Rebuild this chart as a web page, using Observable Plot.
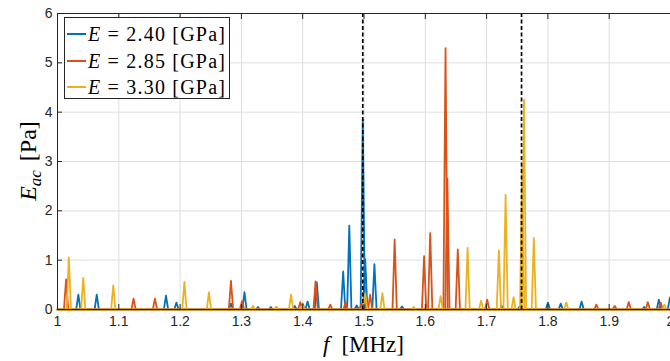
<!DOCTYPE html>
<html>
<head>
<meta charset="utf-8">
<script src="https://cdn.jsdelivr.net/npm/d3@7"></script>
<script src="https://cdn.jsdelivr.net/npm/@observablehq/plot@0.6"></script>
<style>
  body { margin: 0; background: #fff; }
  #wrap { position: relative; width: 670px; height: 361px; overflow: hidden; }
  #legend { position: absolute; left: 64px; top: 17px; width: 166px; height: 82px; border: 1px solid #262626; background: #fff; box-sizing: border-box;
            font-family: "Liberation Serif", serif; font-size: 20px; color: #000; }
  .row { position: absolute; left: 0; height: 26px; line-height: 26px; white-space: nowrap; }
  .sw { position: absolute; left: 2px; top: 12px; width: 19px; height: 2px; }
  .tx { position: absolute; left: 23px; top: 0; letter-spacing: 1.2px; }
</style>
</head>
<body>
<div id="wrap"></div>
<script>
// ---- data ----
const xTicks = [1, 1.1, 1.2, 1.3, 1.4, 1.5, 1.6, 1.7, 1.8, 1.9, 2];
const xTickLabels = ["1", "1.1", "1.2", "1.3", "1.4", "1.5", "1.6", "1.7", "1.8", "1.9", "2"];
const yTicks = [0, 1, 2, 3, 4, 5, 6];
const yTickLabels = ["0", "1", "2", "3", "4", "5", "6"];
const seriesE = ["2.40", "2.85", "3.30"];
const seriesColors = ["#0072BD", "#D95319", "#EDB120"];
const dashF = [1.498, 1.757];

// E = 2.40 GPa : peak frequencies [MHz] and amplitudes [Pa]
const blueF = [1.034, 1.064, 1.177, 1.194, 1.283, 1.305, 1.327, 1.348, 1.387, 1.408, 1.423, 1.466, 1.476, 1.488, 1.498, 1.502, 1.517, 1.562, 1.725, 1.754, 1.800, 1.821, 1.855, 1.957, 1.981, 1.999];
const blueA = [0.30, 0.30, 0.28, 0.14, 0.12, 0.35, 0.05, 0.05, 0.07, 0.16, 0.55, 0.77, 1.70, 0.08, 3.85, 1.02, 0.92, 0.06, 0.07, 0.06, 0.14, 0.12, 0.16, 0.05, 0.20, 0.24];
// E = 2.85 GPa
const redF = [1.014, 1.124, 1.159, 1.283, 1.301, 1.396, 1.400, 1.421, 1.445, 1.470, 1.496, 1.510, 1.550, 1.598, 1.608, 1.633, 1.636, 1.653, 1.701, 1.879, 1.909, 1.932, 1.963, 1.984];
const redA = [0.61, 0.22, 0.22, 0.58, 0.17, 0.15, 0.12, 0.57, 0.10, 0.15, 0.12, 0.30, 1.42, 1.08, 1.55, 5.30, 2.65, 1.22, 0.20, 0.10, 0.07, 0.15, 0.15, 0.14];
// E = 3.30 GPa
const yelF = [1.0185, 1.042, 1.091, 1.207, 1.247, 1.319, 1.357, 1.381, 1.400, 1.502, 1.530, 1.581, 1.625, 1.669, 1.691, 1.720, 1.731, 1.744, 1.758, 1.761, 1.777, 1.830, 1.990];
const yelA = [1.05, 0.64, 0.49, 0.56, 0.35, 0.07, 0.06, 0.30, 0.08, 0.33, 0.33, 0.05, 0.27, 1.25, 0.18, 1.20, 2.33, 0.25, 2.90, 4.25, 1.45, 0.14, 0.10];

const peakF = [blueF, redF, yelF];
const peakA = [blueA, redA, yelA];

// ---- build tables ----
const HW = 0.0035; // half width of each drawn spike
function peakRows(F, A) {
  const rows = [];
  F.forEach((f, i) => {
    rows.push({f: f - HW, a: 0, id: i});
    rows.push({f: f, a: A[i], id: i});
    rows.push({f: f + HW, a: 0, id: i});
  });
  return rows;
}
const baseRows = [{f: xTicks[0], a: 0}, {f: xTicks[xTicks.length - 1], a: 0}];

const seriesMarks = [];
seriesColors.forEach((c, s) => {
  seriesMarks.push(Plot.line(baseRows, {x: "f", y: "a", stroke: c, strokeWidth: 2.2}));
  seriesMarks.push(Plot.line(peakRows(peakF[s], peakA[s]), {x: "f", y: "a", z: "id", stroke: c, strokeWidth: 1.8, curve: "linear"}));
});

const axisColor = "#262626";
const chart = Plot.plot({
  width: 670,
  height: 361,
  marginLeft: 57,
  marginRight: 0,
  marginTop: 13,
  marginBottom: 52,
  style: {fontFamily: "'Liberation Sans', Arial, sans-serif", fontSize: "14px", color: axisColor, background: "#fff"},
  x: {domain: [1, 2], label: null},
  y: {domain: [0, 6], label: null},
  marks: [
    Plot.gridX(xTicks, {stroke: "#dedede", strokeOpacity: 1}),
    Plot.gridY(yTicks, {stroke: "#dedede", strokeOpacity: 1}),
    ...seriesMarks,
    Plot.ruleX(dashF, {stroke: "#000", strokeWidth: 1.7, strokeDasharray: "4,2.5"}),
    Plot.ruleX([1], {stroke: axisColor, strokeWidth: 1}),
    Plot.ruleY([0, 6], {stroke: axisColor, strokeWidth: 1}),
    Plot.axisX(xTicks, {anchor: "bottom", tickSize: 0, tickPadding: 7, tickFormat: (d, i) => xTickLabels[i], label: null}),
    Plot.axisX(xTicks, {anchor: "bottom", tickSize: -5, tickFormat: () => "", label: null}),
    Plot.axisX(xTicks, {anchor: "top", tickSize: -5, tickFormat: () => "", label: null}),
    Plot.axisY(yTicks, {anchor: "left", tickSize: 0, tickPadding: 5, tickFormat: (d, i) => yTickLabels[i], label: null}),
    Plot.axisY(yTicks, {anchor: "left", tickSize: -5, tickFormat: () => "", label: null})
  ]
});

const wrap = document.getElementById("wrap");
wrap.appendChild(chart);

// axis titles (LaTeX-like)
const svg = d3.select(chart);
const xl = svg.append("text")
  .attr("x", 363.5).attr("y", 352)
  .attr("text-anchor", "middle")
  .attr("font-family", "'Liberation Serif', serif")
  .attr("font-size", 23).attr("fill", "#000");
xl.append("tspan").attr("font-style", "italic").text("f");
xl.append("tspan").attr("dx", 12).text("[MHz]");

const yl = svg.append("text")
  .attr("transform", "translate(36,161) rotate(-90)")
  .attr("text-anchor", "middle")
  .attr("font-family", "'Liberation Serif', serif")
  .attr("font-size", 24).attr("fill", "#000");
yl.append("tspan").attr("font-style", "italic").text("E");
yl.append("tspan").attr("font-style", "italic").attr("font-size", 17).attr("dy", 5).text("ac");
yl.append("tspan").attr("dy", -5).attr("dx", 9).text("[Pa]");

// legend
const legend = document.createElement("div");
legend.id = "legend";
seriesE.forEach((e, i) => {
  const row = document.createElement("div");
  row.className = "row";
  row.style.top = (3 + i * 26.5) + "px";
  row.innerHTML = `<div class="sw" style="background:${seriesColors[i]}"></div>` +
    `<span class="tx"><i>E</i> = ${e} [GPa]</span>`;
  legend.appendChild(row);
});
wrap.appendChild(legend);
</script>
</body>
</html>
